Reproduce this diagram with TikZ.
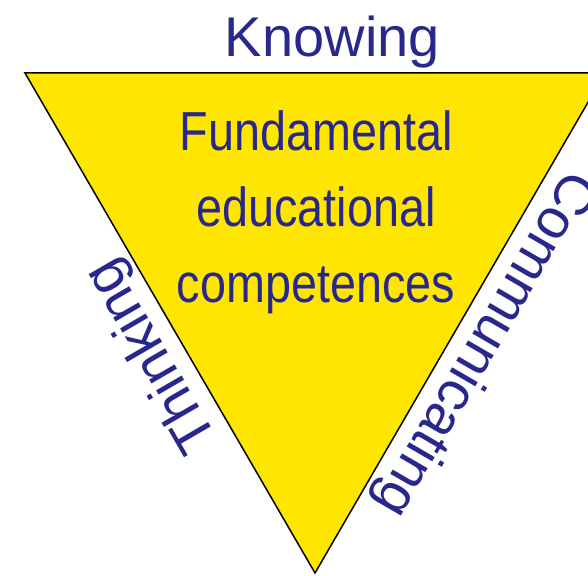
\documentclass[tikz,border=0pt]{standalone}
\usepackage{fontspec}
\setmainfont{Liberation Sans}
\newfontfamily\narrowsans[FakeStretch=0.85]{Liberation Sans}
\definecolor{triyellow}{RGB}{255,230,0}
\definecolor{labelblue}{RGB}{40,40,140}

\begin{document}
\begin{tikzpicture}[
  x=1pt,y=1pt,
  side label/.style={font=\fontsize{56}{60}\selectfont,text=labelblue,sloped,allow upside down,above,inner sep=4pt},
  core text/.style={align=center,font=\narrowsans\fontsize{55}{76}\selectfont,text=labelblue}
]
\useasboundingbox (0,0) rectangle (588,575);
\coordinate (tl) at (25,502);
\coordinate (tr) at (605,502);
\coordinate (bt) at (315,2);
\draw[fill=triyellow,line width=1.5pt] (tl)
  -- node[side label,pos=0.53] (know) {Knowing} (tr)
  -- node[side label,pos=0.51] (comm) {Communicating} (bt)
  -- node[side label,pos=0.466] (think) {Thinking} cycle;
\node[core text] (core) at (316,363) {Fundamental\\educational\\competences};
\end{tikzpicture}
\end{document}
